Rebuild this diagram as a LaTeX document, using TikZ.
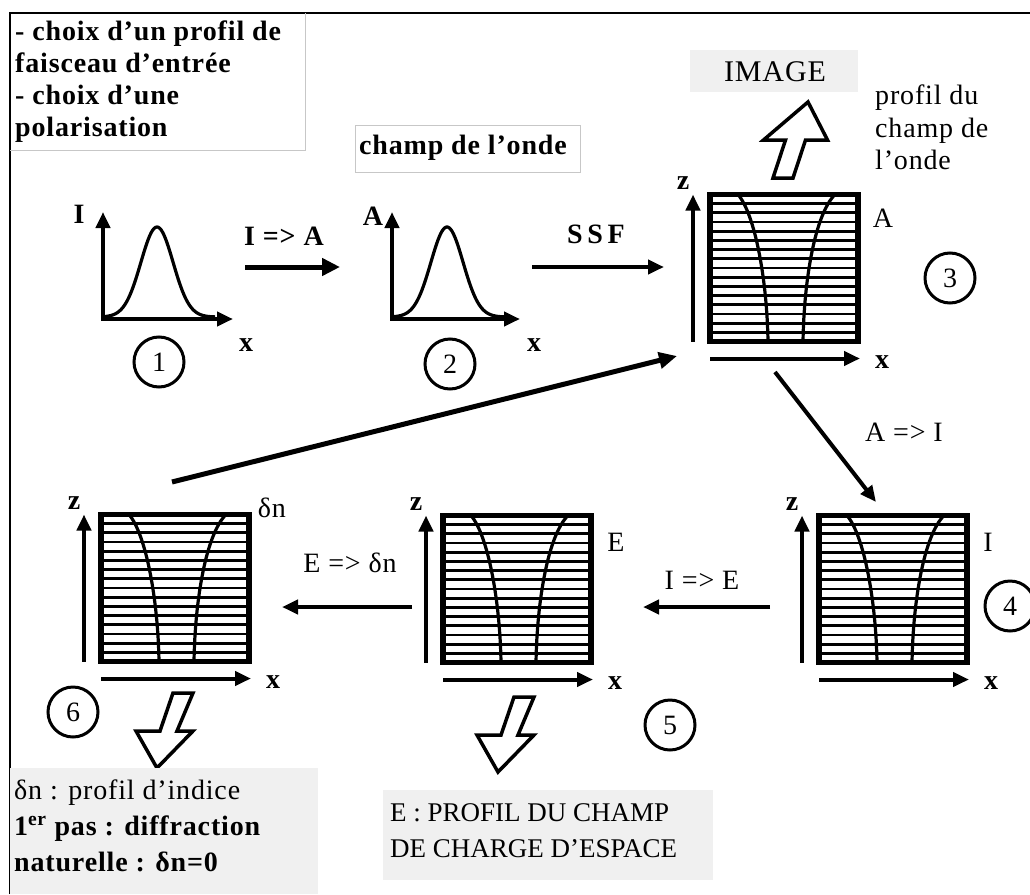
\documentclass[tikz,border=0pt]{standalone}
\usepackage{fontspec}
\setmainfont{Liberation Serif}
\newfontfamily\lsf[LetterSpace=3]{Liberation Serif}
\usetikzlibrary{arrows.meta,calc}
\tikzset{
  fatarrow/.style={line width=5pt,-{Triangle[length=18pt,width=17pt]}},
  thinarrow/.style={line width=4pt,-{Triangle[length=16pt,width=14pt]}},
  axisarrow/.style={line width=4pt,-{Triangle[length=16pt,width=14pt]}},
  gbox/.style={draw,line width=5.5pt,minimum width=148pt,minimum height=147pt,inner sep=0pt,outer sep=0pt},
  numcirc/.style={circle,draw,line width=3pt,minimum size=50pt,inner sep=0pt,font=\fontsize{28}{32}\selectfont},
  lbl/.style={font=\lsf\fontsize{28}{32}\selectfont,inner sep=0pt},
  blbl/.style={font=\lsf\bfseries\fontsize{28}{32}\selectfont,inner sep=0pt},
  caplbl/.style={font=\fontsize{27}{32}\selectfont,inner sep=0pt},
  hollow/.style={draw,line width=3.5pt,fill=white,line join=miter},
  gridline/.style={line width=2.8pt},
  beam/.style={line width=3.2pt},
  graycard/.style={fill=black!6},
  lightframe/.style={draw=black!22,line width=0.8pt},
}
\newcommand\gridcontent{%
  \foreach \k in {1,...,15} \draw[gridline] (0,{\k*147/16}) -- (148,{\k*147/16});
  \draw[beam] (58,147) .. controls (57,85) and (45,20) .. (28,0);
  \draw[beam] (93,147) .. controls (94,85) and (105,20) .. (125,0);
  \draw[axisarrow] (-17,147) -- (-17,0);
  \draw[axisarrow] (0,164) -- (150,164);
  \node[blbl] at (-27,-11) {z};
  \node[blbl] at (172,168) {x};
}
\newcommand\hollowup[2]{%
  \draw[hollow] (#1,#2) -- ({#1+19.5},{#2+38}) -- ({#1-2.5},{#2+38}) -- ({#1-15},{#2+76})
    -- ({#1-35},{#2+76}) -- ({#1-22.5},{#2+38}) -- ({#1-44.5},{#2+38}) -- cycle;}
\newcommand\hollowdown[2]{%
  \draw[hollow] (#1,#2) -- ({#1+36},{#2-37}) -- ({#1+20},{#2-37}) -- ({#1+36},{#2-75})
    -- ({#1+16},{#2-75}) -- ({#1+3},{#2-37}) -- ({#1-21},{#2-37}) -- cycle;}
\begin{document}
\begin{tikzpicture}[x=1pt,y=-1pt]
\useasboundingbox[fill=white] (0,0) rectangle (1030,894);
% outer frame
\draw[line width=2pt] (10,894) -- (10,13) -- (1030,13);
% top-left card
\draw[lightframe] (305,13) -- (305,150) -- (10,150);
\node[blbl,anchor=base west] (tl1) at (15,40) {- choix d’un profil de};
\node[blbl,anchor=base west] (tl2) at (15,72) {faisceau d’entrée};
\node[blbl,anchor=base west] (tl3) at (15,104) {- choix d’une};
\node[blbl,anchor=base west] (tl4) at (15,136) {polarisation};
% champ de l'onde card
\draw[lightframe] (355,125) rectangle (580,172);
\node[blbl] (cho) at (463,148) {champ de l’onde};
% IMAGE card
\fill[graycard] (690,50) rectangle (858,92);
\node[lbl,font=\lsf\fontsize{30}{34}\selectfont] (img) at (775,72) {IMAGE};
\node[lbl,anchor=base west] (pr1) at (875,104) {profil du};
\node[lbl,anchor=base west] (pr2) at (875,137) {champ de};
\node[lbl,anchor=base west] (pr3) at (875,169) {l’onde};
\hollowup{808}{102}
% graph 1
\draw[line width=3.2pt] plot[domain=103:215,samples=80] (\x,{317-90*exp(-((\x-157)^2)/520)});
\draw[axisarrow] (103,319) -- (103,212);
\draw[axisarrow] (101,319) -- (233,319);
\node[blbl] (gI) at (79,214) {I};
\node[blbl] (gx1) at (246,345) {x};
\node[numcirc] (c1) at (159,362) {1};
% graph 2
\draw[line width=3.2pt] plot[domain=392:505,samples=80] (\x,{317-90*exp(-((\x-447)^2)/520)});
\draw[axisarrow] (392,319) -- (392,212);
\draw[axisarrow] (390,319) -- (520,319);
\node[blbl] (gA) at (373,216) {A};
\node[blbl] (gx2) at (534,345) {x};
\node[numcirc] (c2) at (450,364) {2};
% arrows top row
\coordinate (ia1) at (245,267); \coordinate (ia2) at (340,267);
\draw[fatarrow] (ia1) -- (ia2);
\node[blbl] (lia) at (284,236) {I => A};
\coordinate (ss1) at (532,267); \coordinate (ss2) at (664,267);
\draw[thinarrow] (ss1) -- (ss2);
\node[blbl] (lss) at (596,234) {S\,S\,F};
% box 3
\node[gbox] (b3) at (784,268) {};
\begin{scope}[shift={(b3.north west)}]\gridcontent\end{scope}
\node[lbl] (l3) at (883,218) {A};
\node[numcirc] (c3) at (950,278) {3};
% box 4
\node[gbox] (b4) at (893,589) {};
\begin{scope}[shift={(b4.north west)}]\gridcontent\end{scope}
\node[lbl] (l4) at (988,542) {I};
\node[numcirc] (c4) at (1010,606) {4};
% box 5
\node[gbox] (b5) at (517,589) {};
\begin{scope}[shift={(b5.north west)}]\gridcontent\end{scope}
\node[lbl] (l5) at (616,542) {E};
\node[numcirc] (c5) at (670,725) {5};
% box 6
\node[gbox] (b6) at (175,588) {};
\begin{scope}[shift={(b6.north west)}]\gridcontent\end{scope}
\node[lbl] (l6) at (272,508) {δn};
\node[numcirc] (c6) at (73,712) {6};
% connectors
\coordinate (ai1) at (775,372); \coordinate (ai2) at (876,502);
\draw[thinarrow] (ai1) -- (ai2);
\node[lbl] (lai) at (904,432) {A => I};
\coordinate (ie1) at (770,607); \coordinate (ie2) at (643,607);
\draw[thinarrow] (ie1) -- (ie2);
\node[lbl] (lie) at (702,580) {I => E};
\coordinate (ed1) at (412,607); \coordinate (ed2) at (282,607);
\draw[thinarrow] (ed1) -- (ed2);
\node[lbl] (led) at (350,563) {E => δn};
\coordinate (lp1) at (172,482); \coordinate (lp2) at (677,356);
\draw[line width=5pt,-{Triangle[length=18pt,width=16pt]}] (lp1) -- (lp2);
% hollow down arrows
\hollowdown{157}{768}
\hollowdown{498}{772}
% bottom-left card
\fill[graycard] (10,768) rectangle (318,894);
\node[lbl,anchor=base west] (bl1) at (14,799) {δn : profil d’indice};
\node[blbl,anchor=base west] (bl2) at (14,835) {1\textsuperscript{er} pas : diffraction};
\node[blbl,anchor=base west] (bl3) at (14,871) {naturelle : δn=0};
% bottom-mid card
\fill[graycard] (383,790) rectangle (713,880);
\node[caplbl,anchor=base west] (bm1) at (390,821) {E : PROFIL DU CHAMP};
\node[caplbl,anchor=base west] (bm2) at (390,857) {DE CHARGE D’ESPACE};
\end{tikzpicture}
\end{document}
